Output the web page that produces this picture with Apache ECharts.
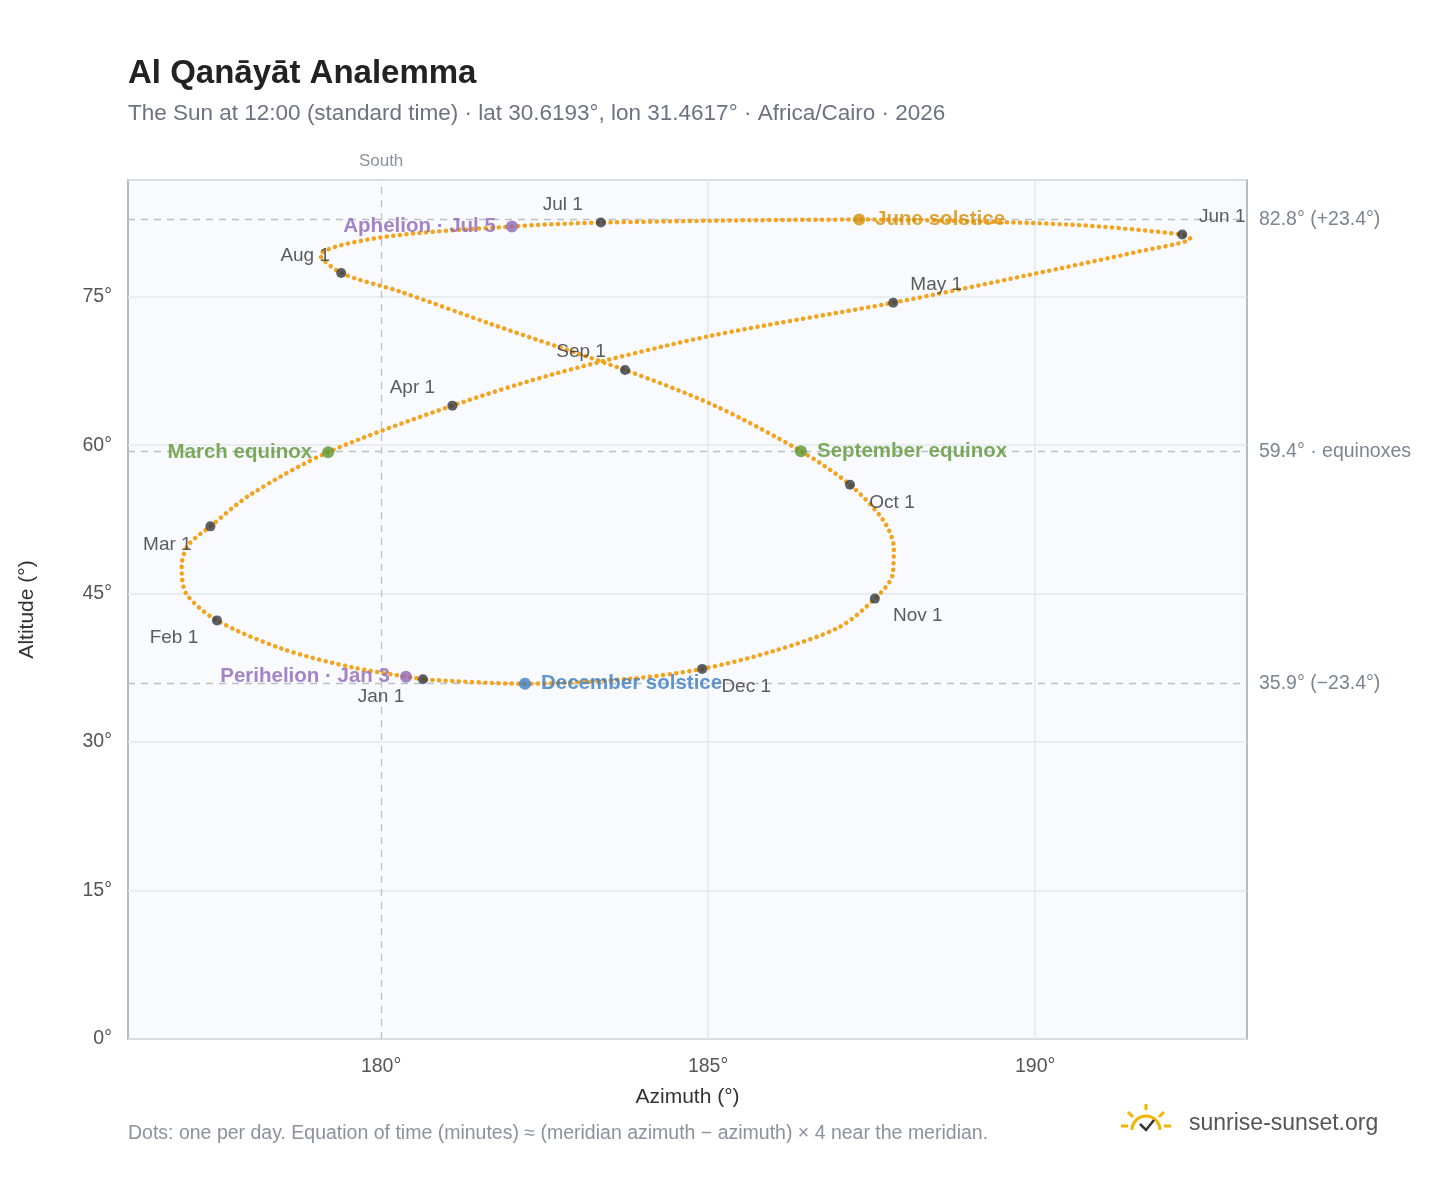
<!DOCTYPE html>
<html><head><meta charset="utf-8">
<script src="https://cdn.jsdelivr.net/npm/echarts@6/dist/echarts.min.js"></script>
<style>html,body{margin:0;background:#fff}#c{width:1448px;height:1188px}</style>
</head><body><div id="c"></div>
<script>
// sun position at noon through the year
const pathAz = [180.64, 179.6, 178.5, 177.49, 177.02, 176.95, 177.05, 177.39, 178.0, 179.19, 181.09, 182.7, 185.0, 187.83, 189.9, 191.6, 192.37, 192.25, 190.5, 187.31, 183.36, 182.0, 180.0, 179.07, 179.39, 180.3, 181.7, 183.73, 185.1, 186.42, 187.17, 187.68, 187.84, 187.82, 187.55, 187.0, 186.0, 184.91, 183.8, 182.2, 180.7, 180.64];
const pathAlt = [36.36, 37.5, 39.4, 42.3, 45.0, 47.8, 49.9, 51.8, 55.0, 59.3, 64.0, 67.3, 71.0, 74.4, 77.2, 79.6, 80.9, 81.3, 82.3, 82.8, 82.5, 82.1, 81.0, 79.2, 77.4, 75.5, 72.2, 67.6, 64.0, 59.4, 56.0, 52.4, 49.6, 46.9, 44.5, 41.6, 39.2, 37.4, 36.4, 35.9, 36.3, 36.36];

const monthNames = ['Jan 1', 'Feb 1', 'Mar 1', 'Apr 1', 'May 1', 'Jun 1', 'Jul 1', 'Aug 1', 'Sep 1', 'Oct 1', 'Nov 1', 'Dec 1'];
const monthAz = [180.64, 177.49, 177.39, 181.09, 187.83, 192.25, 183.36, 179.39, 183.73, 187.17, 187.55, 184.91];
const monthAlt = [36.36, 42.3, 51.8, 64.0, 74.4, 81.3, 82.5, 77.4, 67.6, 56.0, 44.5, 37.4];
const monthLabelOffset = [[-42, 18], [-43, 17], [-43, 18], [-40, -18], [43, -18], [40, -18], [-38, -18], [-36, -17], [-44, -18], [42, 18], [43, 17], [44, 18]];

const eventNames = ['March equinox', 'September equinox', 'June solstice', 'December solstice', 'Perihelion · Jan 3', 'Aphelion · Jul 5'];
const eventAz = [179.19, 186.42, 187.31, 182.2, 180.38, 182.0];
const eventAlt = [59.3, 59.4, 82.8, 35.9, 36.6, 82.1];
const eventColors = ['#5b9632', '#5b9632', '#d4900a', '#3a7cc4', '#8e67b5', '#8e67b5'];
const eventSide = ['left', 'right', 'right', 'right', 'left', 'left'];

const refAlt = [82.8, 59.4, 35.9];
const refLabels = ['82.8° (+23.4°)', '59.4° · equinoxes', '35.9° (−23.4°)'];
const xTicks = [180, 185, 190];

const chart = echarts.init(document.getElementById('c'));
const dash = { type: [7, 6], color: '#b8c0c8', width: 1.3 };

chart.setOption({
  animation: false,
  textStyle: { fontFamily: 'Liberation Sans, Arial, sans-serif' },
  title: {
    text: 'Al Qanāyāt Analemma', left: 123, top: 52,
    textStyle: { fontSize: 33, fontWeight: 'bold', color: '#222' },
    subtext: 'The Sun at 12:00 (standard time) · lat 30.6193°, lon 31.4617° · Africa/Cairo · 2026',
    subtextStyle: { fontSize: 22.5, color: '#6b7280' }, itemGap: 12
  },
  grid: { left: 128, right: 201, top: 180, bottom: 149, show: true, backgroundColor: '#f8fafd', borderColor: '#9aa5b1', borderWidth: 1.5 },
  xAxis: {
    type: 'value', min: 176.13, max: 193.24,
    name: 'Azimuth (°)', nameLocation: 'middle', nameGap: 48, nameTextStyle: { fontSize: 21, color: '#333' },
    axisLine: { show: false }, axisTick: { show: false },
    axisLabel: { customValues: xTicks, formatter: v => v + '°', fontSize: 19.5, color: '#555', margin: 18 },
    splitLine: { show: false }
  },
  yAxis: {
    type: 'value', min: 0, max: 86.8, interval: 15,
    name: 'Altitude (°)', nameLocation: 'middle', nameGap: 90, nameTextStyle: { fontSize: 21, color: '#333' },
    axisLine: { show: false }, axisTick: { show: false },
    axisLabel: { formatter: v => v > 86 ? '' : v + '°', fontSize: 19.5, color: '#555', margin: 16 },
    splitLine: { lineStyle: { color: '#e3e8ee', width: 1.5 } }
  },
  series: [
    {
      type: 'line', smooth: 0.3, symbol: 'none', silent: true, z: 3,
      data: pathAz.map((a, i) => [a, pathAlt[i]]),
      lineStyle: { color: '#f5a21c', width: 4.5, type: [0.1, 6.5], cap: 'round' },
      markLine: {
        silent: true, symbol: 'none', z: 1,
        data: [
          ...xTicks.slice(1).map(x => ({ xAxis: x, lineStyle: { color: '#e3e8ee', width: 1.5, type: 'solid' }, label: { show: false } })),
          { xAxis: 180, lineStyle: { type: [7, 6], color: '#b8c4cc', width: 1.3 }, label: { show: true, position: 'end', formatter: 'South', color: '#8a94a0', fontSize: 17, distance: 10 } },
          ...refAlt.map((y, i) => ({ yAxis: y, lineStyle: dash, label: { show: true, position: 'end', formatter: refLabels[i], color: '#7b8590', fontSize: 19.5, distance: 12 } }))
        ]
      }
    },
    {
      type: 'scatter', symbolSize: 10, z: 5,
      itemStyle: { color: '#343a44' },
      data: monthAz.map((a, i) => ({
        value: [a, monthAlt[i]], name: monthNames[i],
        label: { show: true, formatter: monthNames[i], position: 'inside', offset: monthLabelOffset[i], fontSize: 19, color: '#333' }
      }))
    },
    {
      type: 'scatter', symbolSize: 12, z: 6,
      data: eventAz.map((a, i) => ({
        value: [a, eventAlt[i]],
        itemStyle: { color: eventColors[i] },
        label: { show: true, formatter: eventNames[i], position: eventSide[i], distance: 10, fontSize: 20.5, fontWeight: 'bold', color: eventColors[i] }
      }))
    }
  ],
  graphic: [
    { type: 'text', left: 128, top: 1124, style: { text: 'Dots: one per day. Equation of time (minutes) ≈ (meridian azimuth − azimuth) × 4 near the meridian.', fill: '#8a929c', fontSize: 19.5, fontFamily: 'Liberation Sans, Arial' } },
    { type: 'text', left: 1189, top: 1112, style: { text: 'sunrise-sunset.org', fill: '#555', fontSize: 23, fontFamily: 'Liberation Sans, Arial' } },
    { type: 'arc', shape: { cx: 1146, cy: 1130, r: 14, startAngle: Math.PI, endAngle: 2 * Math.PI }, style: { stroke: '#f4b400', lineWidth: 3, fill: null } },
    { type: 'polyline', shape: { points: [[1140, 1124], [1146, 1130], [1154, 1120]] }, style: { stroke: '#333', lineWidth: 2.5, fill: null } },
    { type: 'line', shape: { x1: 1146, y1: 1104, x2: 1146, y2: 1110 }, style: { stroke: '#f4b400', lineWidth: 3 } },
    { type: 'line', shape: { x1: 1128, y1: 1112, x2: 1133, y2: 1117 }, style: { stroke: '#f4b400', lineWidth: 3 } },
    { type: 'line', shape: { x1: 1164, y1: 1112, x2: 1159, y2: 1117 }, style: { stroke: '#f4b400', lineWidth: 3 } },
    { type: 'line', shape: { x1: 1121, y1: 1126, x2: 1128, y2: 1126 }, style: { stroke: '#f4b400', lineWidth: 3 } },
    { type: 'line', shape: { x1: 1164, y1: 1126, x2: 1171, y2: 1126 }, style: { stroke: '#f4b400', lineWidth: 3 } }
  ]
});
</script>
</body></html>
